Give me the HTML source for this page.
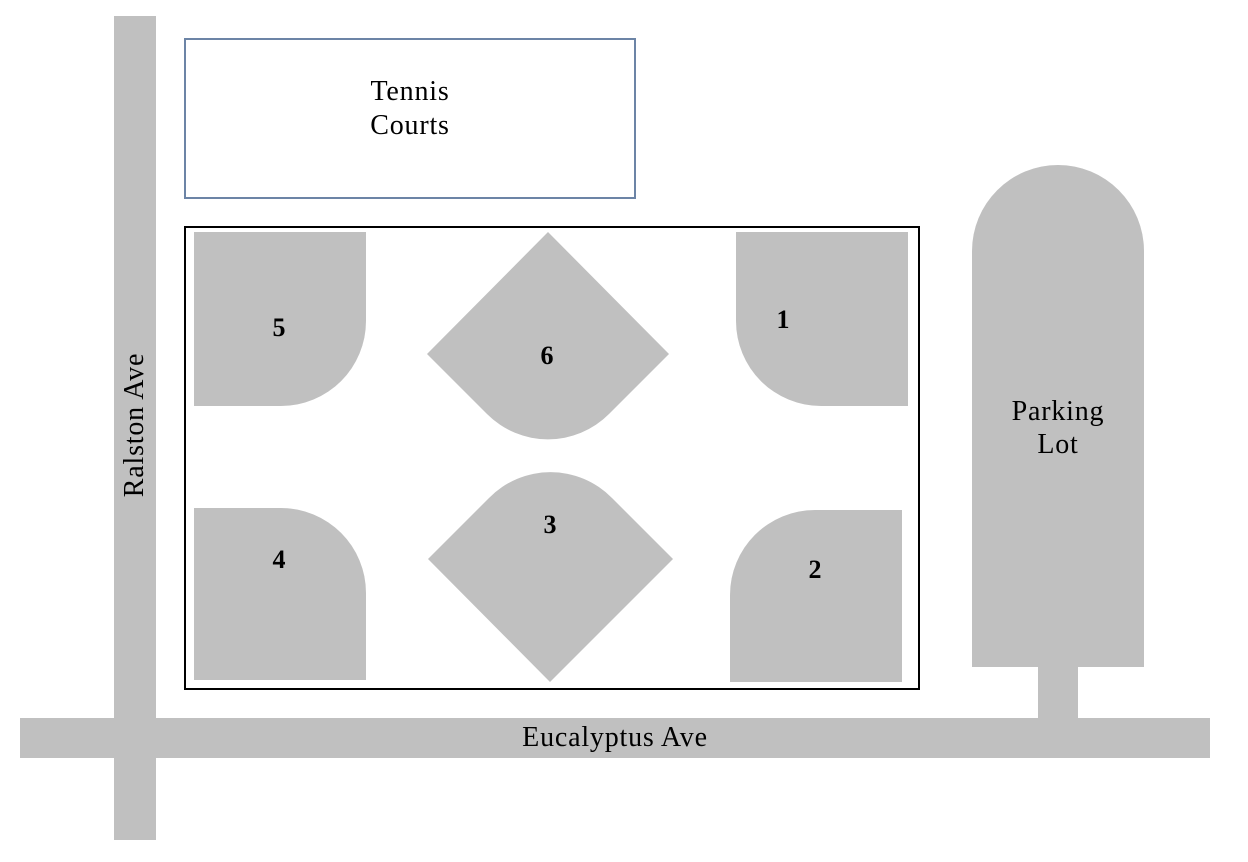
<!DOCTYPE html>
<html><head><meta charset="utf-8"><style>
html,body{margin:0;padding:0;background:#fff;}
svg{display:block;}
text{font-family:"Liberation Serif",serif;fill:#000;}
</style></head><body>
<svg width="1248" height="862" viewBox="0 0 1248 862" xmlns="http://www.w3.org/2000/svg">
<rect x="114" y="16" width="42" height="824" fill="#c0c0c0"/>
<rect x="20" y="718" width="1190" height="40" fill="#c0c0c0"/>
<rect x="185" y="39" width="450" height="159" fill="none" stroke="#6c84a6" stroke-width="2"/>
<rect x="185" y="227" width="734" height="462" fill="none" stroke="#000" stroke-width="2"/>
<path d="M972,251 A86,86 0 0 1 1144,251 V667 H972 Z" fill="#c0c0c0"/>
<rect x="1038" y="666" width="40" height="53" fill="#c0c0c0"/>
<g fill="#c0c0c0">
<path d="M194,232 H366 V321 A85,85 0 0 1 281,406 H194 Z"/>
<path d="M736,232 H908 V406 H821 A85,85 0 0 1 736,321 Z"/>
<path d="M194,508 H281 A85,85 0 0 1 366,593 V680 H194 Z"/>
<path d="M730,595 A85,85 0 0 1 815,510 H902 V682 H730 Z"/>
<path d="M548,232 L669,354 L609,414 A86,86 0 0 1 487,414 L427,354 Z"/>
<path d="M428,559 L489,498 A86,86 0 0 1 612,498 L673,559 L550,682 Z"/>
</g>
<g font-size="28" text-anchor="middle" letter-spacing="0.8">
<text x="410" y="100">Tennis</text>
<text x="410" y="134">Courts</text>
<text x="1058" y="420">Parking</text>
<text x="1058" y="453">Lot</text>
<text x="615" y="746">Eucalyptus Ave</text>
<text transform="translate(143,425) rotate(-90)">Ralston Ave</text>
</g>
<g font-size="26" font-weight="bold" text-anchor="middle">
<text x="279" y="336">5</text>
<text x="547" y="364">6</text>
<text x="783" y="328">1</text>
<text x="279" y="568">4</text>
<text x="550" y="533">3</text>
<text x="815" y="578">2</text>
</g>
</svg>
</body></html>
